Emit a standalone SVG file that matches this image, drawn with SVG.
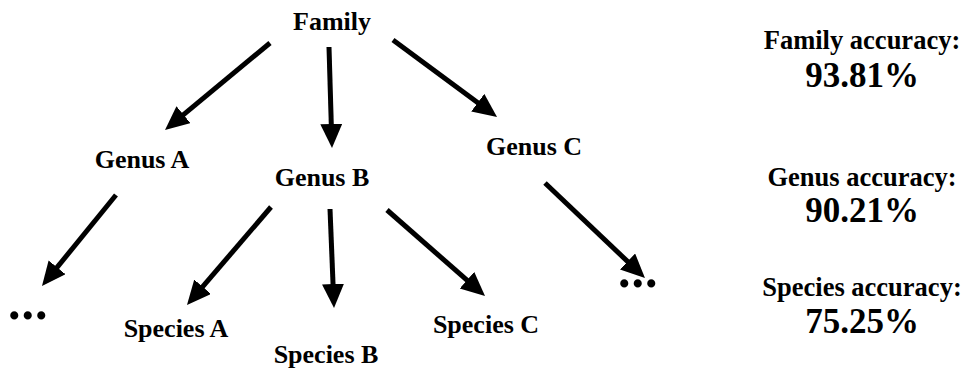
<svg xmlns="http://www.w3.org/2000/svg" width="964" height="369" viewBox="0 0 964 369">
<style>
text{font-family:"Liberation Serif","Times New Roman",serif;font-weight:bold;fill:#000}
.n{font-size:26px;text-anchor:middle}
.a{font-size:26.5px;text-anchor:middle}
.p{font-size:35px;text-anchor:middle}
.d{font-size:50px;letter-spacing:1px}
.c line{stroke:#000;stroke-width:5;marker-end:url(#ah)}
</style>
<defs>
<marker id="ah" markerUnits="userSpaceOnUse" markerWidth="26" markerHeight="24" refX="14" refY="11" orient="auto">
<path d="M0,0 L24,11 L0,22 z" fill="#000"/>
</marker>
</defs>
<rect width="964" height="369" fill="#fff"/>
<g id="family"><text class="n" x="332" y="30">Family</text></g>
<g id="genusA"><text class="n" x="142" y="168">Genus A</text></g>
<g id="genusB"><text class="n" x="322" y="186">Genus B</text></g>
<g id="genusC"><text class="n" x="534" y="155">Genus C</text></g>
<g id="dotsL"><text class="d" x="8" y="319">...</text></g>
<g id="dotsR"><text class="d" x="618" y="287">...</text></g>
<g id="speciesA"><text class="n" x="176" y="337">Species A</text></g>
<g id="speciesB"><text class="n" x="326" y="363">Species B</text></g>
<g id="speciesC"><text class="n" x="486" y="333">Species C</text></g>
<g class="c" id="connectors">
<line x1="270" y1="43" x2="172.7" y2="123.6"/>
<line x1="329" y1="47" x2="331.7" y2="138"/>
<line x1="393" y1="40" x2="489" y2="111"/>
<line x1="116" y1="195" x2="48.3" y2="278.2"/>
<line x1="271" y1="207" x2="193.5" y2="297.4"/>
<line x1="330" y1="209" x2="333.6" y2="298"/>
<line x1="387" y1="210" x2="477.5" y2="289.4"/>
<line x1="545" y1="183" x2="637.7" y2="271.1"/>
</g>
<g id="acc">
<text class="a" x="862" y="49">Family accuracy:</text>
<text class="p" x="862" y="87">93.81%</text>
<text class="a" x="862" y="186">Genus accuracy:</text>
<text class="p" x="862" y="222">90.21%</text>
<text class="a" x="862" y="296">Species accuracy:</text>
<text class="p" x="862" y="333">75.25%</text>
</g>
</svg>
